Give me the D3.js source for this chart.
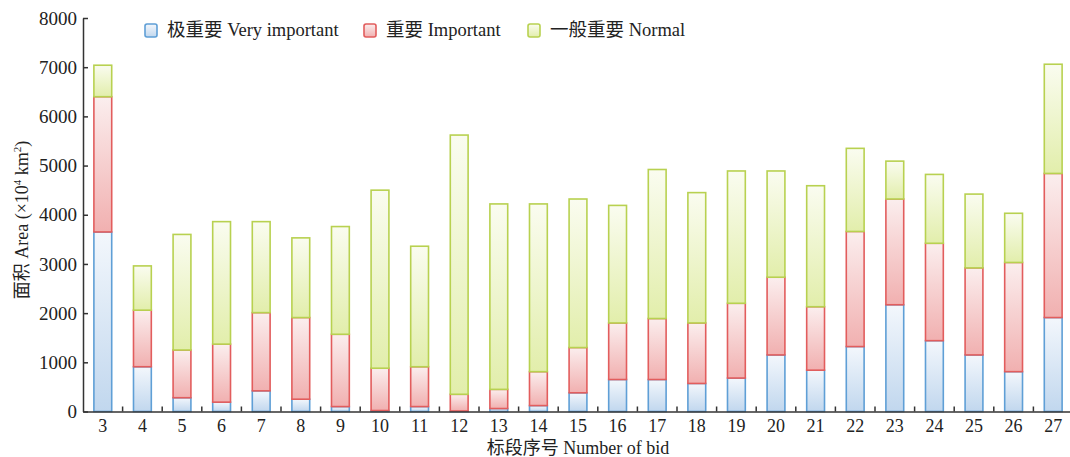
<!DOCTYPE html>
<html>
<head>
<meta charset="utf-8">
<script src="https://cdn.jsdelivr.net/npm/d3@7"></script>
<style>
    body { margin: 0; background: #fff; }
    svg { display: block; font-family: 'Liberation Serif', 'Noto Sans CJK SC', serif; }
    .axis text { font-size: 18px; fill: #222; font-family: 'Liberation Serif', serif; }
    .y-axis text { font-size: 19px; }
    .axis path, .axis line { stroke: #333; stroke-width: 1.5; }
</style>
</head>
<body>
<div id="chart"></div>
<script>
// bid numbers
const bids = ['3', '4', '5', '6', '7', '8', '9', '10', '11', '12', '13', '14', '15',
    '16', '17', '18', '19', '20', '21', '22', '23', '24', '25', '26', '27']

// area (x10^4 km2) per importance level
const veryImportant = [3650, 910, 280, 190, 420, 250, 100, 20, 100, 10, 60, 120, 380,
    650, 650, 570, 680, 1150, 840, 1320, 2170, 1440, 1150, 810, 1910]
const important = [2750, 1150, 970, 1180, 1590, 1660, 1470, 860, 810, 340, 390, 690, 920,
    1150, 1240, 1230, 1520, 1580, 1290, 2340, 2150, 1980, 1770, 2220, 2930]
const normal = [640, 900, 2350, 2490, 1850, 1620, 2190, 3620, 2450, 5270, 3770, 3410, 3020,
    2390, 3030, 2650, 2690, 2160, 2460, 1690, 770, 1400, 1500, 1000, 2220]

const yTicks = [0, 1000, 2000, 3000, 4000, 5000, 6000, 7000, 8000]

const seriesNames = ['极重要 Very important', '重要 Important', '一般重要 Normal']
const seriesKeys = ['very', 'imp', 'norm']

const DIM = {
    width: 1070,
    height: 457,
    margin_left: 83,
    margin_top: 18,
    plot_bottom: 411.5,
    step: 39.6
}

const svg = d3.select('#chart').append('svg')
    .attr('width', DIM.width)
    .attr('height', DIM.height)

// gradients for bars
const colors = {
    very: { stroke: '#5f9fd6', top: '#f3f7fc', bottom: '#c1d7ee' },
    imp: { stroke: '#e25d5d', top: '#fbeeee', bottom: '#f1b0b0' },
    norm: { stroke: '#b8d150', top: '#fafcf0', bottom: '#e2eeab' }
}
const defs = svg.append('defs')
seriesKeys.forEach(k => {
    const g = defs.append('linearGradient')
        .attr('id', 'grad-' + k)
        .attr('x1', 0).attr('y1', 0).attr('x2', 0).attr('y2', 1)
    g.append('stop').attr('offset', '0%').attr('stop-color', colors[k].top)
    g.append('stop').attr('offset', '100%').attr('stop-color', colors[k].bottom)
})

const data = bids.map((b, i) => ({ bid: b, very: veryImportant[i], imp: important[i], norm: normal[i] }))
const stacked = d3.stack().keys(seriesKeys)(data)

const xScale = d3.scaleBand()
    .domain(bids)
    .range([DIM.margin_left, DIM.margin_left + DIM.step * bids.length])
    .paddingInner(0.55)
    .paddingOuter(0.275)

const yScale = d3.scaleLinear()
    .domain([0, 8000])
    .range([DIM.plot_bottom, DIM.margin_top])

// bars
svg.append('g').selectAll('g')
    .data(stacked)
    .join('g')
    .attr('fill', d => `url(#grad-${d.key})`)
    .attr('stroke', d => colors[d.key].stroke)
    .attr('stroke-width', 1.6)
    .selectAll('rect')
    .data(d => d)
    .join('rect')
    .attr('x', d => xScale(d.data.bid))
    .attr('width', xScale.bandwidth())
    .attr('y', d => yScale(d[1]))
    .attr('height', d => Math.max(0, yScale(d[0]) - yScale(d[1])))

// y axis
const yAxis = d3.axisLeft(yScale)
    .tickValues(yTicks)
    .tickFormat(d3.format('d'))
    .tickSizeInner(-5)
    .tickSizeOuter(0)
    .tickPadding(6)
svg.append('g')
    .attr('class', 'axis y-axis')
    .attr('transform', `translate(${DIM.margin_left}, 0)`)
    .call(yAxis)

// x axis, labels centred, ticks between bars
const xAxis = d3.axisBottom(xScale)
    .tickSize(0)
    .tickPadding(8)
svg.append('g')
    .attr('class', 'axis x-axis')
    .attr('transform', `translate(0, ${DIM.plot_bottom})`)
    .call(xAxis)

svg.append('g')
    .selectAll('line')
    .data(bids.slice(0, -1))
    .join('line')
    .attr('x1', d => xScale(d) + xScale.step() - xScale.step() * xScale.paddingInner() / 2)
    .attr('x2', d => xScale(d) + xScale.step() - xScale.step() * xScale.paddingInner() / 2)
    .attr('y1', DIM.plot_bottom)
    .attr('y2', DIM.plot_bottom - 5)
    .attr('stroke', '#333')
    .attr('stroke-width', 1.5)

// axis titles
svg.append('text')
    .attr('text-anchor', 'middle')
    .attr('x', 578)
    .attr('y', 454)
    .attr('font-size', 18)
    .attr('fill', '#222')
    .text('标段序号 Number of bid')

const yTitle = svg.append('text')
    .attr('text-anchor', 'middle')
    .attr('transform', `translate(28, 220) rotate(-90)`)
    .attr('font-size', 18)
    .attr('fill', '#222')
yTitle.append('tspan').text('面积 Area (×10')
yTitle.append('tspan').attr('font-size', 11).attr('dy', -7).text('4')
yTitle.append('tspan').attr('dy', 7).text(' km')
yTitle.append('tspan').attr('font-size', 11).attr('dy', -7).text('2')
yTitle.append('tspan').attr('dy', 7).text(')')

// legend
const legendX = [145, 364, 528]
const legend = svg.append('g').selectAll('g')
    .data(seriesKeys)
    .join('g')
    .attr('transform', (d, i) => `translate(${legendX[i]}, 24)`)
legend.append('rect')
    .attr('width', 12)
    .attr('height', 13)
    .attr('rx', 2)
    .attr('fill', d => `url(#grad-${d})`)
    .attr('stroke', d => colors[d].stroke)
    .attr('stroke-width', 1.6)
legend.append('text')
    .attr('x', 22)
    .attr('y', 12)
    .attr('font-size', 18.5)
    .attr('fill', '#222')
    .text((d, i) => seriesNames[i])
</script>
</body>
</html>
